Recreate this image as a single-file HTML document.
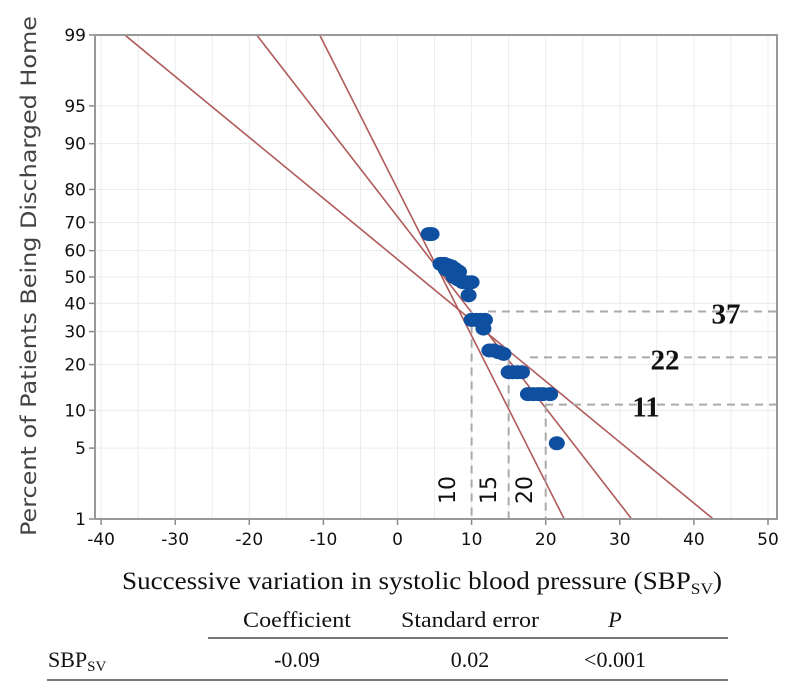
<!DOCTYPE html>
<html><head><meta charset="utf-8"><style>
html,body{margin:0;padding:0;background:#fff;}
svg{display:block;}
</style></head><body>
<svg id="chart" width="798" height="683" viewBox="0 0 798 683" xmlns="http://www.w3.org/2000/svg">
<g id="grid"></g>
<g id="fits"></g>
<g id="refs"></g>
<g id="pts"></g>
<g id="axes"></g>
<text transform="translate(36,276) rotate(-90)" text-anchor="middle" textLength="520" lengthAdjust="spacingAndGlyphs" font-family="DejaVu Sans, sans-serif" font-size="21" fill="#444">Percent of Patients Being Discharged Home</text>
<text x="122" y="589" textLength="600" lengthAdjust="spacingAndGlyphs" font-family="Liberation Serif, serif" font-size="25" fill="#111">Successive variation in systolic blood pressure (SBP<tspan font-size="16" dy="5">SV</tspan><tspan dy="-5">)</tspan></text>
<g font-family="Liberation Serif, serif" font-size="22" fill="#111">
<text x="297" y="627" text-anchor="middle" textLength="108" lengthAdjust="spacingAndGlyphs">Coefficient</text>
<text x="470" y="627" text-anchor="middle" textLength="138" lengthAdjust="spacingAndGlyphs">Standard error</text>
<text x="615" y="627" text-anchor="middle" font-style="italic">P</text>
<line x1="208" y1="638" x2="728" y2="638" stroke="#777" stroke-width="2"/>
<text x="48" y="667">SBP<tspan font-size="15" dy="4">SV</tspan></text>
<text x="297" y="667" text-anchor="middle">-0.09</text>
<text x="470" y="667" text-anchor="middle">0.02</text>
<text x="615" y="667" text-anchor="middle">&lt;0.001</text>
<line x1="47" y1="680" x2="728" y2="680" stroke="#777" stroke-width="2"/>
</g>
</svg>
<script>
const xTicks=[-40,-30,-20,-10,0,10,20,30,40,50];
const yTicks=[1,5,10,20,30,40,50,60,70,80,90,95,99];
const fitTop=[-36.8,-19.0,-10.5];   // x at 99%
const fitBottom=[42.6,31.6,22.5];   // x at 1%
const ptX=[4.2,4.6,5.8,6.3,6.8,7.3,7.8,8.3,6.5,7.2,7.6,8.2,8.8,9.3,10,9.6,10,10.6,11.2,11.8,11.6,12.4,13.0,13.6,14.3,15,15.6,16.2,16.8,17.6,18.3,19,19.6,20.6,21.5];
const ptP=[66,66,55,55,54.5,54,53,52,53,52,50,49,48,48,48,43,34,34,34,34,31,24,24,23.5,23,18,18,18,18,13,13,13,13,13,5.5];
const refX=[10,15,20];
const refP=[37,22,11];
const refLabels=["37","22","11"];
const NS="http://www.w3.org/2000/svg";
const L=95,R=777,T=35,B=519;
function xs(v){return 397.5+v*7.41;}
function qnorm(p){
  const a=[-39.69683028665376,220.9460984245205,-275.9285104469687,138.3577518672690,-30.66479806614716,2.506628277459239],
  b=[-54.47609879822406,161.5858368580409,-155.6989798598866,66.80131188771972,-13.28068155288572],
  c=[-0.007784894002430293,-0.3223964580411365,-2.400758277161838,-2.549732539343734,4.374664141464968,2.938163982698783],
  d=[0.007784695709041462,0.3224671290700398,2.445134137142996,3.754408661907416];
  if(p<0.02425){const q=Math.sqrt(-2*Math.log(p));return (((((c[0]*q+c[1])*q+c[2])*q+c[3])*q+c[4])*q+c[5])/((((d[0]*q+d[1])*q+d[2])*q+d[3])*q+1);}
  if(p>1-0.02425){const q=Math.sqrt(-2*Math.log(1-p));return -(((((c[0]*q+c[1])*q+c[2])*q+c[3])*q+c[4])*q+c[5])/((((d[0]*q+d[1])*q+d[2])*q+d[3])*q+1);}
  const q=p-0.5,r=q*q;return (((((a[0]*r+a[1])*r+a[2])*r+a[3])*r+a[4])*r+a[5])*q/(((((b[0]*r+b[1])*r+b[2])*r+b[3])*r+b[4])*r+1);
}
const zTop=qnorm(0.99),zBot=qnorm(0.01);
function ys(p){const z=qnorm(p/100);return T+(zTop-z)/(zTop-zBot)*(B-T);}
function mk(tag,attrs,parent){const e=document.createElementNS(NS,tag);for(const k in attrs)e.setAttribute(k,attrs[k]);parent.appendChild(e);return e;}
const grid=document.getElementById('grid'),axes=document.getElementById('axes'),fits=document.getElementById('fits'),refs=document.getElementById('refs'),pts=document.getElementById('pts');
for(let v=-40;v<=50;v+=5){const g=mk('line',{x1:xs(v),x2:xs(v),y1:T,y2:B,stroke:'#ececec','stroke-width':1},grid);

}
yTicks.forEach(p=>{const y=ys(p);
const g=mk('line',{x1:L,x2:R,y1:y,y2:y,stroke:'#ececec','stroke-width':1},grid);


const t=mk('line',{x1:L-6,x2:L,y1:y,y2:y,stroke:'#888','stroke-width':1.5},axes);


const tx=mk('text',{x:L-9,y:y+6,'text-anchor':'end','font-family':'DejaVu Sans, sans-serif','font-size':17,fill:'#111'},axes);
tx.textContent=String(p);

});
xTicks.forEach(v=>{const x=xs(v);
const t=mk('line',{x1:x,x2:x,y1:B,y2:B+6,stroke:'#888','stroke-width':1.5},axes);


const tx=mk('text',{x:x,y:B+26,'text-anchor':'middle','font-family':'DejaVu Sans, sans-serif','font-size':17,fill:'#111'},axes);
tx.textContent=String(v);

});
const frame=mk('path',{d:`M${L},${B}V${T}H${R}V${B}H${L}`,fill:'none',stroke:'#999','stroke-width':2},axes);


fitTop.forEach((xt,i)=>{const l=mk('line',{x1:xs(xt),y1:ys(99),x2:xs(fitBottom[i]),y2:ys(1),stroke:'#b05a5a','stroke-width':1.6},fits);

});
const hStart=[488,530,545];
refP.forEach((p,i)=>{const y=ys(p),x=xs(refX[i]);
const h=mk('line',{x1:hStart[i],x2:R,y1:y,y2:y,stroke:'#aaa','stroke-width':2,'stroke-dasharray':'8,6'},refs);


const v=mk('line',{x1:x,x2:x,y1:y,y2:B,stroke:'#aaa','stroke-width':2,'stroke-dasharray':'8,6'},refs);


const lx=[726,665,646][i];
const lb=mk('text',{x:lx,y:y+12,'text-anchor':'middle','font-family':'Liberation Serif, serif','font-weight':'bold','font-size':29,fill:'#111'},refs);
lb.textContent=refLabels[i];


const vx=[447,488,524][i];
const vl=mk('text',{transform:`translate(${vx+8},490) rotate(-90)`,'text-anchor':'middle','font-family':'DejaVu Sans, sans-serif','font-size':22,fill:'#111'},refs);
vl.textContent=String(refX[i]);

});
ptX.forEach((v,i)=>{const c=mk('ellipse',{cx:xs(v),cy:ys(ptP[i]),rx:8,ry:7,fill:'#0f4fa0'},pts);

});
</script>
</body></html>
